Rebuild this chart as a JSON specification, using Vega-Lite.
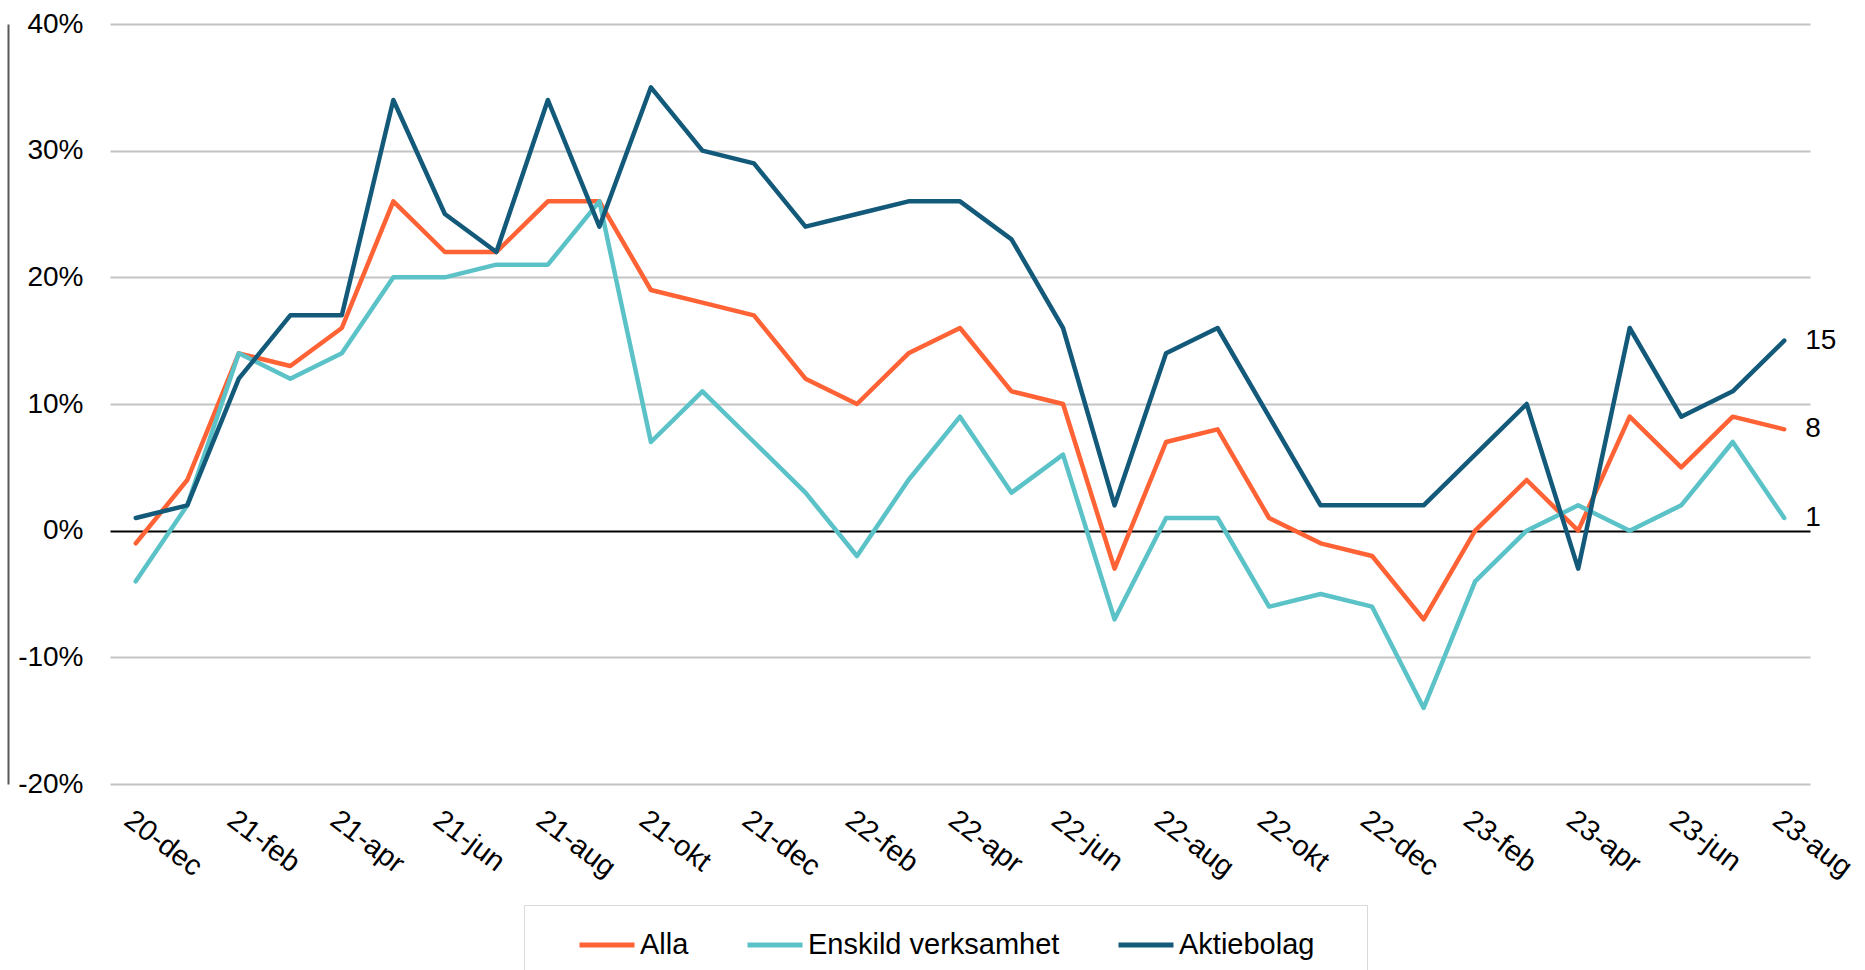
{
  "$schema": "https://vega.github.io/schema/vega-lite/v6.json",
  "width": 1700,
  "height": 760,
  "autosize": {"type": "none"},
  "padding": {"left": 110, "top": 24, "right": 55, "bottom": 186},
  "background": "white",
  "config": {"view": {"stroke": null}, "font": "Liberation Sans"},
  "data": {
    "values": [
      {"m": "20-dec", "Alla": -1, "Enskild verksamhet": -4, "Aktiebolag": 1},
      {"m": "21-jan", "Alla": 4, "Enskild verksamhet": 2, "Aktiebolag": 2},
      {"m": "21-feb", "Alla": 14, "Enskild verksamhet": 14, "Aktiebolag": 12},
      {"m": "21-mar", "Alla": 13, "Enskild verksamhet": 12, "Aktiebolag": 17},
      {"m": "21-apr", "Alla": 16, "Enskild verksamhet": 14, "Aktiebolag": 17},
      {"m": "21-maj", "Alla": 26, "Enskild verksamhet": 20, "Aktiebolag": 34},
      {"m": "21-jun", "Alla": 22, "Enskild verksamhet": 20, "Aktiebolag": 25},
      {"m": "21-jul", "Alla": 22, "Enskild verksamhet": 21, "Aktiebolag": 22},
      {"m": "21-aug", "Alla": 26, "Enskild verksamhet": 21, "Aktiebolag": 34},
      {"m": "21-sep", "Alla": 26, "Enskild verksamhet": 26, "Aktiebolag": 24},
      {"m": "21-okt", "Alla": 19, "Enskild verksamhet": 7, "Aktiebolag": 35},
      {"m": "21-nov", "Alla": 18, "Enskild verksamhet": 11, "Aktiebolag": 30},
      {"m": "21-dec", "Alla": 17, "Enskild verksamhet": 7, "Aktiebolag": 29},
      {"m": "22-jan", "Alla": 12, "Enskild verksamhet": 3, "Aktiebolag": 24},
      {"m": "22-feb", "Alla": 10, "Enskild verksamhet": -2, "Aktiebolag": 25},
      {"m": "22-mar", "Alla": 14, "Enskild verksamhet": 4, "Aktiebolag": 26},
      {"m": "22-apr", "Alla": 16, "Enskild verksamhet": 9, "Aktiebolag": 26},
      {"m": "22-maj", "Alla": 11, "Enskild verksamhet": 3, "Aktiebolag": 23},
      {"m": "22-jun", "Alla": 10, "Enskild verksamhet": 6, "Aktiebolag": 16},
      {"m": "22-jul", "Alla": -3, "Enskild verksamhet": -7, "Aktiebolag": 2},
      {"m": "22-aug", "Alla": 7, "Enskild verksamhet": 1, "Aktiebolag": 14},
      {"m": "22-sep", "Alla": 8, "Enskild verksamhet": 1, "Aktiebolag": 16},
      {"m": "22-okt", "Alla": 1, "Enskild verksamhet": -6, "Aktiebolag": 9},
      {"m": "22-nov", "Alla": -1, "Enskild verksamhet": -5, "Aktiebolag": 2},
      {"m": "22-dec", "Alla": -2, "Enskild verksamhet": -6, "Aktiebolag": 2},
      {"m": "23-jan", "Alla": -7, "Enskild verksamhet": -14, "Aktiebolag": 2},
      {"m": "23-feb", "Alla": 0, "Enskild verksamhet": -4, "Aktiebolag": 6},
      {"m": "23-mar", "Alla": 4, "Enskild verksamhet": 0, "Aktiebolag": 10},
      {"m": "23-apr", "Alla": 0, "Enskild verksamhet": 2, "Aktiebolag": -3},
      {"m": "23-maj", "Alla": 9, "Enskild verksamhet": 0, "Aktiebolag": 16},
      {"m": "23-jun", "Alla": 5, "Enskild verksamhet": 2, "Aktiebolag": 9},
      {"m": "23-jul", "Alla": 9, "Enskild verksamhet": 7, "Aktiebolag": 11},
      {"m": "23-aug", "Alla": 8, "Enskild verksamhet": 1, "Aktiebolag": 15}
    ]
  },
  "transform": [
    {"fold": ["Alla", "Enskild verksamhet", "Aktiebolag"], "as": ["serie", "varde"]}
  ],
  "encoding": {
    "x": {
      "field": "m",
      "type": "ordinal",
      "sort": null,
      "scale": {"type": "point", "padding": 0.5},
      "axis": {
        "values": ["20-dec", "21-feb", "21-apr", "21-jun", "21-aug", "21-okt", "21-dec", "22-feb", "22-apr", "22-jun", "22-aug", "22-okt", "22-dec", "23-feb", "23-apr", "23-jun", "23-aug"],
        "title": null,
        "labelAngle": 37,
        "labelAlign": "left",
        "labelBaseline": "top",
        "labelFontSize": 29,
        "labelColor": "black",
        "labelPadding": 21,
        "labelOverlap": false,
        "labelFlush": false,
        "labelBound": false,
        "ticks": false,
        "tickSize": 0,
        "domain": false,
        "grid": false
      }
    },
    "y": {
      "field": "varde",
      "type": "quantitative",
      "scale": {"domain": [-20, 40], "nice": false, "zero": false},
      "axis": {
        "title": null,
        "values": [-20, -10, 0, 10, 20, 30, 40],
        "labelExpr": "datum.value + '%'",
        "labelFontSize": 28,
        "labelColor": "black",
        "labelAlign": "right",
        "labelBaseline": "middle",
        "labelPadding": -75,
        "offset": 102,
        "ticks": false,
        "tickSize": 0,
        "domain": true,
        "domainColor": "#595959",
        "domainWidth": 2,
        "grid": true,
        "gridWidth": 2,
        "gridColor": {"condition": {"test": "datum.value === 0", "value": "#000000"}, "value": "#C4C4C4"}
      }
    }
  },
  "layer": [
    {
      "mark": {"type": "line", "strokeWidth": 4.5, "strokeCap": "round", "strokeJoin": "round"},
      "encoding": {
        "color": {
          "field": "serie",
          "type": "nominal",
          "sort": ["Alla", "Enskild verksamhet", "Aktiebolag"],
          "scale": {"domain": ["Alla", "Enskild verksamhet", "Aktiebolag"], "range": ["#FF6235", "#5BC2C7", "#135A7A"]},
          "legend": {
            "orient": "none",
            "legendX": 414,
            "legendY": 881,
            "direction": "horizontal",
            "title": " ",
            "titleOrient": "left",
            "titlePadding": 43,
            "titleFontSize": 28,
            "padding": 10,
            "strokeColor": "#D9D9D9",
            "fillColor": "white",
            "labelFontSize": 29,
            "labelColor": "black",
            "labelOffset": 3,
            "labelLimit": 500,
            "labelExpr": "datum.label === 'Aktiebolag' ? 'Aktiebolag\u2800\u2800' : datum.label",
            "symbolType": "stroke",
            "symbolSize": 3025,
            "symbolStrokeWidth": 5,
            "columnPadding": 48
          }
        }
      }
    },
    {
      "transform": [{"filter": "datum.m === '23-aug'"}],
      "mark": {"type": "text", "align": "left", "baseline": "middle", "dx": 21, "fontSize": 28, "color": "black"},
      "encoding": {
        "text": {"field": "varde", "type": "quantitative"}
      }
    }
  ]
}
